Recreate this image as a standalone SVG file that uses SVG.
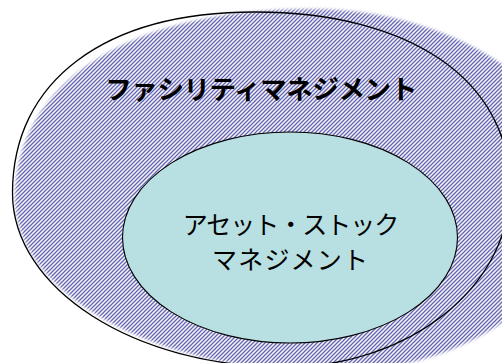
<svg xmlns="http://www.w3.org/2000/svg" width="502" height="363" viewBox="0 0 502 363">
  <style>
    .outline { fill: none; stroke: #000; stroke-width: 1.3; }
    .inner { fill: #b8dfe1; stroke: #000; stroke-width: 1.1; }
    .title { font-family: "Noto Sans CJK JP", "Noto Sans", sans-serif; font-weight: bold; font-size: 26.5px; fill: #000; text-anchor: middle; }
    .label { font-family: "Noto Sans CJK JP", "Noto Sans", sans-serif; font-size: 25px; fill: #000; text-anchor: middle; }
  </style>
  <defs>
    <pattern id="hatch" patternUnits="userSpaceOnUse" width="4" height="4">
      <rect width="4" height="4" fill="#f4f4fb"/>
      <path d="M-1,1 L1,-1 M0,4 L4,0 M3,5 L5,3" stroke="#6464b0" stroke-width="1.25"/>
    </pattern>
    <filter id="soft" x="-10%" y="-10%" width="120%" height="120%">
      <feGaussianBlur stdDeviation="1.6"/>
    </filter>
    <mask id="softMask" maskUnits="userSpaceOnUse" x="0" y="0" width="502" height="363">
      <path d="M15,198 C15,84 128,9 310,9 C458.6,9 579,91.8 579,194 C579,292.3 467.5,372 330,372 C156,372 15,294 15,198 Z" fill="#fff" filter="url(#soft)"/>
    </mask>
  </defs>

  <g id="facility-management">
    <rect x="0" y="0" width="502" height="363" fill="url(#hatch)" mask="url(#softMask)"/>
    <path class="outline" d="M12.5,193 C12.5,80.8 104.7,12 255,12 C410,12 510,80 510,188 C510,286.9 409,367 285,367 C134.5,367 12.5,289 12.5,193 Z"/>
    <text class="title" x="261" y="99" letter-spacing="-0.4">ファシリティマネジメント</text>
  </g>

  <g id="asset-stock-management">
    <ellipse class="inner" cx="290" cy="237.5" rx="167.5" ry="105.5"/>
    <text class="label" x="290.5" y="234" letter-spacing="-1">アセット・ストック</text>
    <text class="label" x="290.6" y="269" letter-spacing="1.2">マネジメント</text>
  </g>
</svg>
